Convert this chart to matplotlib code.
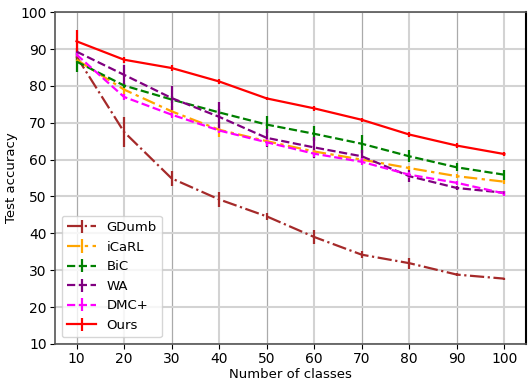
import matplotlib
matplotlib.use('Agg')
import matplotlib.pyplot as plt

classes = [10, 20, 30, 40, 50, 60, 70, 80, 90, 100]

gdumb = [88.0, 67.5, 54.9, 49.2, 44.6, 39.0, 34.2, 31.9, 28.8, 27.7]
gdumb_err = [1.0, 4.0, 2.0, 2.0, 1.0, 2.0, 1.0, 1.5, 0.3, 0.3]

icarl = [87.1, 79.0, 73.1, 68.1, 65.0, 62.2, 60.0, 57.7, 55.5, 54.0]
icarl_err = [1.0, 1.5, 1.5, 2.0, 0.8, 0.8, 0.8, 0.6, 0.6, 0.6]

bic = [86.6, 80.1, 76.3, 72.8, 69.5, 67.0, 64.3, 60.9, 57.9, 55.9]
bic_err = [2.7, 0.8, 1.0, 1.0, 2.3, 2.0, 2.5, 1.6, 1.1, 1.4]

wa = [89.3, 83.0, 76.7, 71.6, 65.9, 63.3, 60.9, 55.5, 52.3, 51.0]
wa_err = [1.0, 2.8, 3.3, 4.0, 2.5, 2.9, 1.6, 1.6, 0.6, 0.6]

dmc = [88.5, 77.0, 72.2, 67.9, 64.7, 61.6, 59.4, 55.9, 53.7, 50.8]
dmc_err = [1.0, 0.8, 0.8, 0.8, 1.0, 1.0, 1.0, 0.8, 0.6, 0.8]

ours = [92.1, 87.1, 84.85, 81.2, 76.6, 73.9, 70.8, 66.8, 63.8, 61.5]
ours_err = [3.0, 0.8, 0.8, 0.8, 0.5, 0.6, 0.6, 0.6, 0.6, 0.5]

plt.rcParams['font.family'] = ['DejaVu Sans']

fig, ax = plt.subplots(figsize=(5.3, 3.8), dpi=100)
fig.subplots_adjust(left=0.104, right=0.992, top=0.968, bottom=0.095)

ax.errorbar(classes, gdumb, yerr=gdumb_err, color='brown', linestyle='-.', lw=1.6, label='GDumb')
ax.errorbar(classes, icarl, yerr=icarl_err, color='orange', linestyle=(0, (6, 2, 1.5, 2)), lw=1.6, label='iCaRL')
ax.errorbar(classes, bic, yerr=bic_err, color='green', linestyle='--', lw=1.6, label='BiC')
ax.errorbar(classes, wa, yerr=wa_err, color='purple', linestyle='--', lw=1.6, label='WA')
ax.errorbar(classes, dmc, yerr=dmc_err, color='magenta', linestyle='--', lw=1.6, label='DMC+')
ax.errorbar(classes, ours, yerr=ours_err, color='red', linestyle='-', lw=1.6, label='Ours')

ax.set_xticks(classes)
ax.set_ylim(10, 100)
ax.set_xlim(5.5, 104.5)
ax.set_xlabel('Number of classes', fontsize=9.5, labelpad=1)
ax.set_ylabel('Test accuracy', fontsize=9.5, labelpad=2)
ax.tick_params(labelsize=10, pad=2.5)

ax.grid(True, color='#d3d3d3', lw=1.5)
ax.set_axisbelow(True)
for i, gl in enumerate(ax.xaxis.get_gridlines()):
    if i % 2 == 0:
        gl.set_color('#aaaaaa')
        gl.set_linewidth(0.9)

for s in ['left', 'bottom', 'top']:
    ax.spines[s].set_color('#555555')
    ax.spines[s].set_linewidth(1.2)
ax.spines['right'].set_color('black')
ax.spines['right'].set_linewidth(1.5)

ax.legend(loc='lower left', fontsize=9.5, framealpha=0.8, handlelength=2.2)

plt.savefig('out.png')
